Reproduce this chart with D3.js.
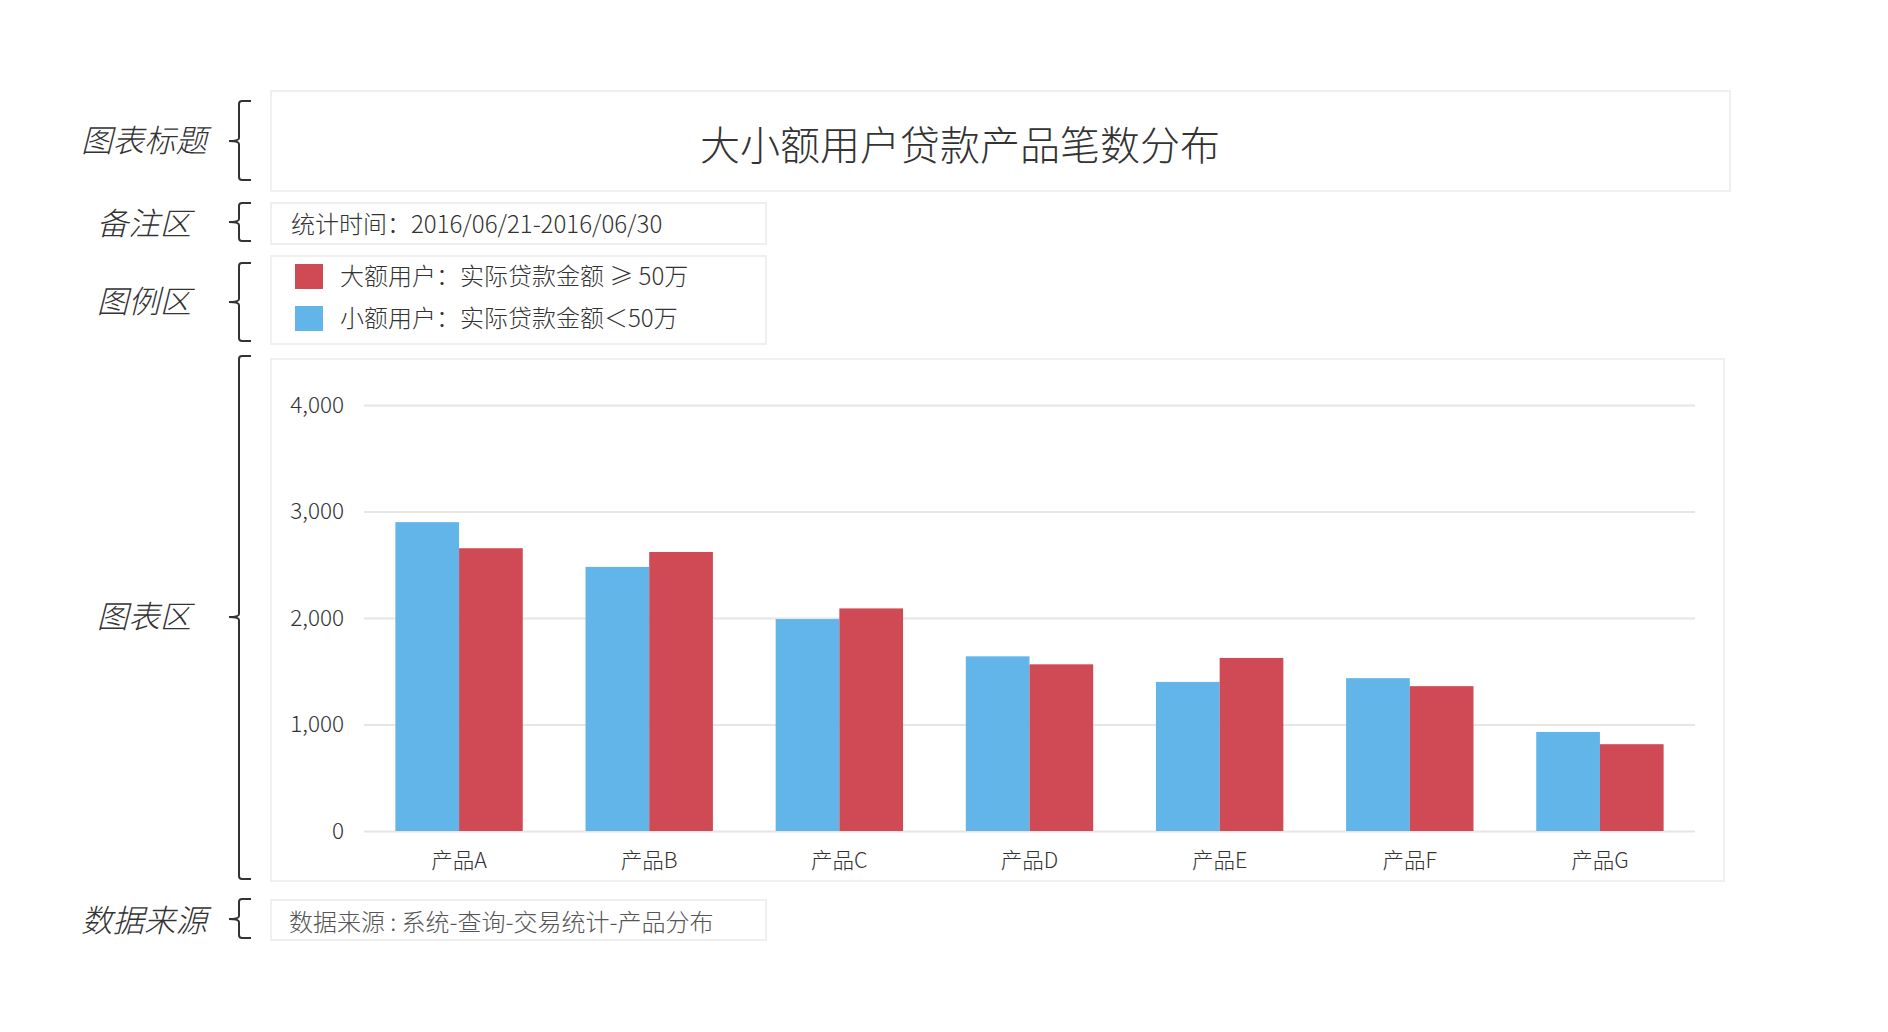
<!DOCTYPE html>
<html>
<head>
<meta charset="utf-8">
<script src="https://cdn.jsdelivr.net/npm/d3@7"></script>
<style>
    body { margin: 0; background: #fff; }
    svg { display: block; font-family: "Noto Sans CJK SC", "Noto Sans", sans-serif; font-weight: 300; }
</style>
</head>
<body>
<div id="chart"></div>
<script>
// data
var categories = ['产品A', '产品B', '产品C', '产品D', '产品E', '产品F', '产品G'];
var smallUsers = [2900, 2480, 1990, 1640, 1400, 1435, 930];
var largeUsers = [2655, 2620, 2090, 1565, 1625, 1360, 815];
var yTicks = [0, 1000, 2000, 3000, 4000];
var seriesNames = ['大额用户：实际贷款金额 ≥ 50万', '小额用户：实际贷款金额＜50万'];
var sectionLabels = ['图表标题', '备注区', '图例区', '图表区', '数据来源'];

var chartTitle = '大小额用户贷款产品笔数分布';
var noteText = '统计时间：2016/06/21-2016/06/30';
var sourceText = '数据来源 : 系统-查询-交易统计-产品分布';

var blue = '#62b5e9';
var red = '#cf4a55';

var svg = d3.select('#chart')
    .append('svg')
    .attr('width', 1888)
    .attr('height', 1032);

// boxes
function box(x, y, w, h) {
    svg.append('rect')
        .attr('x', x).attr('y', y)
        .attr('width', w).attr('height', h)
        .attr('fill', '#fff')
        .attr('stroke', '#efefef')
        .attr('stroke-width', 2);
}
box(271, 91, 1459, 100);
box(271, 203, 495, 41);
box(271, 256, 495, 88);
box(271, 359, 1453, 522);
box(271, 900, 495, 40);

// braces on the left
function brace(top, bottom, mid) {
    var xv = 239, xr = 251, xt = 229;
    var p = 'M' + xr + ',' + top + ' L' + (xv + 3) + ',' + top +
        ' Q' + xv + ',' + top + ' ' + xv + ',' + (top + 3) +
        ' L' + xv + ',' + (mid - 3) +
        ' Q' + xv + ',' + mid + ' ' + xt + ',' + mid +
        ' Q' + xv + ',' + mid + ' ' + xv + ',' + (mid + 3) +
        ' L' + xv + ',' + (bottom - 3) +
        ' Q' + xv + ',' + bottom + ' ' + (xv + 3) + ',' + bottom +
        ' L' + xr + ',' + bottom;
    svg.append('path')
        .attr('d', p)
        .attr('fill', 'none')
        .attr('stroke', '#333')
        .attr('stroke-width', 2);
}
brace(101, 180, 141);
brace(203, 241, 222);
brace(263, 341, 302);
brace(356, 879, 617);
brace(899, 938, 919);

var labelY = [141, 224, 302, 617, 921];
svg.selectAll('.section-label')
    .data(sectionLabels)
    .enter()
    .append('text')
    .attr('class', 'section-label')
    .attr('x', 144)
    .attr('y', function(d, i) { return labelY[i]; })
    .attr('dy', '0.36em')
    .attr('text-anchor', 'middle')
    .attr('font-size', 31.5)
    .attr('font-style', 'italic')
    .attr('fill', '#333')
    .text(function(d) { return d; });

// title
svg.append('text')
    .attr('x', 960)
    .attr('y', 146)
    .attr('dy', '0.36em')
    .attr('text-anchor', 'middle')
    .attr('font-size', 40)
    .attr('fill', '#333')
    .text(chartTitle);

// note
svg.append('text')
    .attr('x', 291)
    .attr('y', 224)
    .attr('dy', '0.36em')
    .attr('font-size', 24)
    .attr('fill', '#333')
    .text(noteText);

// legend
var legendColors = [red, blue];
var legend = svg.selectAll('.legend-item')
    .data(seriesNames)
    .enter()
    .append('g')
    .attr('class', 'legend-item')
    .attr('transform', function(d, i) { return 'translate(295,' + (264 + i * 42) + ')'; });
legend.append('rect')
    .attr('width', 28)
    .attr('height', 25)
    .attr('fill', function(d, i) { return legendColors[i]; });
legend.append('text')
    .attr('x', 45)
    .attr('y', 12)
    .attr('dy', '0.36em')
    .attr('font-size', 24)
    .attr('fill', '#333')
    .text(function(d) { return d; });

// source
svg.append('text')
    .attr('x', 289)
    .attr('y', 922)
    .attr('dy', '0.36em')
    .attr('font-size', 24)
    .attr('fill', '#555')
    .text(sourceText);

// chart area
var x0 = d3.scaleBand()
    .domain(categories)
    .range([364, 1695])
    .paddingInner(0.33)
    .paddingOuter(0.165);

var x1 = d3.scaleBand()
    .domain(['small', 'large'])
    .range([0, x0.bandwidth()]);

var y = d3.scaleLinear()
    .domain([0, 4000])
    .range([831, 405]);

// grid
svg.append('g')
    .attr('class', 'grid')
    .attr('transform', 'translate(364,0)')
    .call(d3.axisLeft(y).tickValues(yTicks).tickSize(-1331).tickFormat(''))
    .call(function(g) {
        g.select('.domain').remove();
        g.selectAll('line').attr('stroke', '#e6e6e6').attr('stroke-width', 2);
    });

// y axis labels
svg.append('g')
    .attr('transform', 'translate(344,0)')
    .call(d3.axisLeft(y).tickValues(yTicks).tickSize(0).tickPadding(0).tickFormat(d3.format(',')))
    .call(function(g) {
        g.select('.domain').remove();
        g.selectAll('text')
            .attr('font-size', 22.5)
            .attr('fill', '#333')
            .attr('font-family', '"Noto Sans CJK SC", sans-serif');
    });

// bars
var groups = svg.selectAll('.bar-group')
    .data(categories)
    .enter()
    .append('g')
    .attr('class', 'bar-group')
    .attr('transform', function(d) { return 'translate(' + x0(d) + ',0)'; });

groups.append('rect')
    .attr('x', x1('small'))
    .attr('width', x1.bandwidth())
    .attr('y', function(d, i) { return y(smallUsers[i]); })
    .attr('height', function(d, i) { return y(0) - y(smallUsers[i]); })
    .attr('fill', blue);

groups.append('rect')
    .attr('x', x1('large'))
    .attr('width', x1.bandwidth())
    .attr('y', function(d, i) { return y(largeUsers[i]); })
    .attr('height', function(d, i) { return y(0) - y(largeUsers[i]); })
    .attr('fill', red);

// x axis
svg.append('g')
    .attr('transform', 'translate(0,831)')
    .call(d3.axisBottom(x0).tickSize(0).tickPadding(22))
    .call(function(g) {
        g.select('.domain').remove();
        g.selectAll('text')
            .attr('font-size', 21.5)
            .attr('fill', '#333')
            .attr('font-family', '"Noto Sans CJK SC", sans-serif');
    });
</script>
</body>
</html>
